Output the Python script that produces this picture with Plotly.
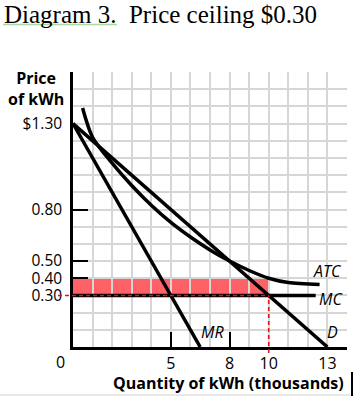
import plotly.graph_objects as go

# ---- data ----
demand_q = [0, 13]
demand_p = [1.30, 0.0]
mr_q = [0, 6.5]
mr_p = [1.30, 0.0]
mc_q = [0, 12.4]
mc_p = [0.30, 0.30]
atc_q = [0.49, 1.0, 2.0, 3.0, 4.0, 5.0, 6.0, 7.0, 8.0, 9.0, 10.0, 11.0, 12.6]
atc_p = [1.39, 1.22, 1.07, 0.94, 0.825, 0.725, 0.64, 0.565, 0.50, 0.445, 0.40, 0.375, 0.363]
ceiling_price = 0.30
ceiling_qty = 10
atc_at_ceiling = 0.40

x_tickvals = [5, 8, 10, 13]
x_ticktext = ["5", "8", "10", "13"]
x_tickmarks = [5, 8]
y_tickvals = [1.30, 0.80, 0.50, 0.40, 0.30]
y_ticktext = ["$1.30", "0.80", "0.50", "0.40", "0.30"]
y_tickmarks = [0.80, 0.50, 0.40]

XMAX = 14
YMAX = 1.6

L, R, T, B = 73, 9, 72, 49
W, H = 356, 396
pw, ph = W - L - R, H - T - B


def px(xpix):
    return (xpix - L) / pw


def py(ypix):
    return (H - B - ypix) / ph


SANS = "Open Sans"
GRID = "#d6d6d6"
LINE_W = 3.5

fig = go.Figure()

curve = dict(color="black", width=LINE_W)
fig.add_trace(go.Scatter(x=mr_q, y=mr_p, mode="lines", line=curve, hoverinfo="skip"))
fig.add_trace(go.Scatter(x=demand_q, y=demand_p, mode="lines", line=curve, hoverinfo="skip"))
fig.add_trace(go.Scatter(x=atc_q, y=atc_p, mode="lines",
                         line=dict(color="black", width=LINE_W, shape="spline", smoothing=0.8), hoverinfo="skip"))
fig.add_trace(go.Scatter(x=mc_q, y=mc_p, mode="lines", line=curve, hoverinfo="skip"))
# dummy trace to activate tick-only overlay axes
fig.add_trace(go.Scatter(x=[None], y=[None], xaxis="x2", yaxis="y2", mode="lines", showlegend=False, hoverinfo="skip"))

# shaded region between price ceiling and ATC
fig.add_shape(type="rect", xref="x", yref="y", x0=0, x1=ceiling_qty, y0=ceiling_price, y1=atc_at_ceiling,
              fillcolor="rgba(255,70,75,0.85)", line=dict(width=0), layer="below")
# red dashed ceiling line (extends left of the axis)
fig.add_shape(type="line", xref="paper", yref="y", x0=px(58), x1=ceiling_qty / XMAX, y0=ceiling_price, y1=ceiling_price,
              line=dict(color="#e3121c", width=1.6, dash="4px,3px"), layer="above")
fig.add_shape(type="line", xref="x", yref="paper", x0=ceiling_qty, x1=ceiling_qty, y0=py(353), y1=ceiling_price / YMAX,
              line=dict(color="#e3121c", width=1.6, dash="4px,3px"), layer="above")

# title underline and page artifacts
fig.add_shape(type="line", xref="paper", yref="paper", x0=px(3), x1=px(117), y0=py(24.5), y1=py(24.5),
              line=dict(color="#a9d8a2", width=1.5))
fig.add_shape(type="line", xref="paper", yref="paper", x0=px(352), x1=px(352), y0=py(372), y1=py(396),
              line=dict(color="black", width=2))
fig.add_shape(type="line", xref="paper", yref="paper", x0=px(0), x1=px(350), y0=py(395), y1=py(395),
              line=dict(color="#d0d0d0", width=1))

ann = []
ann.append(dict(text="Diagram 3.\u00a0 Price ceiling $0.30", x=px(2), y=py(-1), xref="paper", yref="paper",
                xanchor="left", yanchor="top", showarrow=False,
                font=dict(family="Liberation Serif", size=25, color="black")))
ann.append(dict(text="<b>Price</b><br><b>of kWh</b>", x=px(36), y=py(88), xref="paper", yref="paper",
                xanchor="center", yanchor="middle", showarrow=False, align="center",
                font=dict(family=SANS, size=16, color="black")))
ann.append(dict(text="0", x=px(60), y=py(362), xref="paper", yref="paper", xanchor="center", yanchor="middle",
                showarrow=False, font=dict(family=SANS, size=16, color="black")))
ann.append(dict(text="<b>Quantity of kWh (thousands)</b>", x=px(346), y=py(383), xref="paper", yref="paper",
                xanchor="right", yanchor="middle", showarrow=False,
                font=dict(family=SANS, size=16, color="black")))
for txt, xc, yc in [("ATC", 327, 271), ("MC", 331, 299), ("D", 332, 332), ("MR", 212, 332)]:
    ann.append(dict(text="<i>" + txt + "</i>", x=px(xc), y=py(yc), xref="paper", yref="paper",
                    xanchor="center", yanchor="middle", showarrow=False,
                    font=dict(family=SANS, size=16, color="black")))

fig.update_layout(
    width=W, height=H,
    margin=dict(l=L, r=R, t=T, b=B, pad=0),
    paper_bgcolor="white", plot_bgcolor="white",
    showlegend=False,
    annotations=ann,
    xaxis=dict(range=[0, XMAX], tickmode="array", tickvals=x_tickvals, ticktext=x_ticktext,
               showgrid=True, gridcolor=GRID, gridwidth=1.5, zeroline=False,
               minor=dict(tickmode="linear", tick0=0, dtick=1, showgrid=True, gridcolor=GRID, gridwidth=1.5),
               showline=True, linecolor="black", linewidth=2.5, ticks="",
               tickfont=dict(family=SANS, size=16, color="black"), fixedrange=True),
    yaxis=dict(range=[0, YMAX], tickmode="array", tickvals=y_tickvals, ticktext=y_ticktext,
               showgrid=True, gridcolor=GRID, gridwidth=1.5, zeroline=False,
               minor=dict(tickmode="linear", tick0=0, dtick=0.1, showgrid=True, gridcolor=GRID, gridwidth=1.5),
               showline=True, linecolor="black", linewidth=2.5, ticks="", ticklabelstandoff=5,
               tickfont=dict(family=SANS, size=15.5, color="black"), fixedrange=True),
    xaxis2=dict(range=[0, XMAX], overlaying="x", tickmode="array", tickvals=x_tickmarks,
                ticks="inside", ticklen=15, tickwidth=2, tickcolor="black", showticklabels=False,
                showgrid=False, zeroline=False, showline=False),
    yaxis2=dict(range=[0, YMAX], overlaying="y", tickmode="array", tickvals=y_tickmarks,
                ticks="inside", ticklen=15, tickwidth=2, tickcolor="black", showticklabels=False,
                showgrid=False, zeroline=False, showline=False),
)

fig.write_html("out.html", config={"displayModeBar": False},
               post_script="document.body.style.margin='0px';")
